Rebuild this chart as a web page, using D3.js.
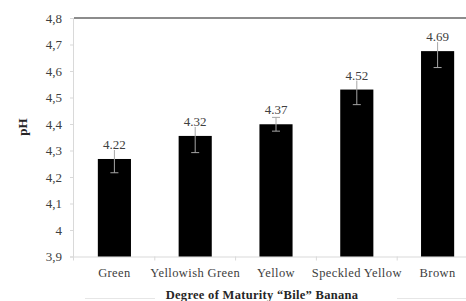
<!DOCTYPE html>
<html>
<head>
<meta charset="utf-8">
<script src="https://cdn.jsdelivr.net/npm/d3@7"></script>
<style>
  body { margin: 0; background: #fff; }
  svg { display: block; }
  svg text { font-family: "Liberation Serif", "Times New Roman", "DejaVu Serif", serif; }
</style>
</head>
<body>
<script>
var wW = 466;
var wH = 301;

// data
var categories = ["Green", "Yellowish Green", "Yellow", "Speckled Yellow", "Brown"];
var barValues = [4.268, 4.355, 4.399, 4.53, 4.675];
var errValues = [0.052, 0.063, 0.026, 0.057, 0.062];
var valueLabels = ["4.22", "4.32", "4.37", "4.52", "4.69"];
var yTicks = [3.9, 4, 4.1, 4.2, 4.3, 4.4, 4.5, 4.6, 4.7, 4.8];

var svg = d3.select("body").append("svg")
  .attr("width", wW)
  .attr("height", wH);

var x = d3.scaleBand()
  .domain(categories)
  .range([74, 478])
  .paddingInner(0.59)
  .paddingOuter(0.295);

var y = d3.scaleLinear()
  .domain([3.9, 4.8])
  .range([256.5, 18]);

// top border line
svg.append("line")
  .attr("x1", 74).attr("x2", wW)
  .attr("y1", y(4.8)).attr("y2", y(4.8))
  .attr("stroke", "#8c8c8c")
  .attr("stroke-width", 2);

// y axis
var yAxis = svg.append("g")
  .attr("transform", "translate(74,0)")
  .call(d3.axisLeft(y).tickValues(yTicks).tickSize(4).tickPadding(8)
    .tickFormat(function(d) { return d === 4 ? "4" : d3.format(".1f")(d).replace(".", ","); }));
yAxis.attr("font-family", null);
yAxis.select(".domain").attr("stroke", "#d9d9d9").attr("d", "M-0.5," + y(4.8) + "V" + (y(3.9) + 4));
yAxis.selectAll(".tick line").attr("stroke", "#d9d9d9");
yAxis.selectAll(".tick text")
  .attr("font-size", 13)
  .attr("fill", "#404040");

// x axis
var xAxis = svg.append("g")
  .attr("transform", "translate(0," + y(3.9) + ")")
  .call(d3.axisBottom(x).tickSize(0).tickPadding(12));
xAxis.attr("font-family", null);
xAxis.select(".domain").attr("stroke", "#d9d9d9").attr("d", "M70,0.5H" + wW);
xAxis.selectAll(".tick text")
  .attr("font-size", 12.5)
  .attr("fill", "#404040")
  .attr("letter-spacing", 0.4);

// small separators between categories
var step = x.step();
xAxis.selectAll(".sep")
  .data(categories)
  .enter().append("line")
  .attr("class", "sep")
  .attr("x1", function(d) { return x(d) + x.bandwidth() / 2 + step / 2; })
  .attr("x2", function(d) { return x(d) + x.bandwidth() / 2 + step / 2; })
  .attr("y1", 0).attr("y2", 4)
  .attr("stroke", "#d9d9d9");

// bars
svg.selectAll(".bar")
  .data(categories)
  .enter().append("rect")
  .attr("class", "bar")
  .attr("x", function(d) { return x(d); })
  .attr("width", x.bandwidth())
  .attr("y", function(d, i) { return y(barValues[i]); })
  .attr("height", function(d, i) { return y(3.9) - y(barValues[i]); })
  .attr("fill", "#000");

// error bars
var eb = svg.selectAll(".err")
  .data(categories)
  .enter().append("g")
  .attr("class", "err")
  .attr("stroke", "#a6a6a6")
  .attr("stroke-width", 1);
eb.append("line")
  .attr("x1", function(d) { return x(d) + x.bandwidth() / 2; })
  .attr("x2", function(d) { return x(d) + x.bandwidth() / 2; })
  .attr("y1", function(d, i) { return y(barValues[i] + errValues[i]); })
  .attr("y2", function(d, i) { return y(barValues[i] - errValues[i]); });
eb.append("line")
  .attr("x1", function(d) { return x(d) + x.bandwidth() / 2 - 4; })
  .attr("x2", function(d) { return x(d) + x.bandwidth() / 2 + 4; })
  .attr("y1", function(d, i) { return y(barValues[i] - errValues[i]); })
  .attr("y2", function(d, i) { return y(barValues[i] - errValues[i]); });
eb.append("line")
  .attr("x1", function(d) { return x(d) + x.bandwidth() / 2 - 4; })
  .attr("x2", function(d) { return x(d) + x.bandwidth() / 2 + 4; })
  .attr("y1", function(d, i) { return y(barValues[i] + errValues[i]); })
  .attr("y2", function(d, i) { return y(barValues[i] + errValues[i]); });

// value labels, on a white box like the original data labels
var vl = svg.selectAll(".vlabel")
  .data(categories)
  .enter().append("g")
  .attr("class", "vlabel");
vl.append("rect")
  .attr("x", function(d) { return x(d) + x.bandwidth() / 2 - 12; })
  .attr("y", function(d, i) { return y(barValues[i]) - 21; })
  .attr("width", 24)
  .attr("height", 12)
  .attr("fill", "#fff");
vl.append("text")
  .attr("x", function(d) { return x(d) + x.bandwidth() / 2; })
  .attr("y", function(d, i) { return y(barValues[i]) - 10; })
  .attr("text-anchor", "middle")
  .attr("font-size", 13)
  .attr("fill", "#404040")
  .text(function(d, i) { return valueLabels[i]; });

// axis titles
svg.append("text")
  .attr("transform", "translate(27,127) rotate(-90)")
  .attr("text-anchor", "middle")
  .attr("font-size", 13)
  .attr("font-weight", "bold")
  .attr("fill", "#262626")
  .text("pH");

svg.append("text")
  .attr("x", 262)
  .attr("y", 299)
  .attr("text-anchor", "middle")
  .attr("font-size", 12.5)
  .attr("font-weight", "bold")
  .attr("fill", "#262626")
  .attr("letter-spacing", 0.3)
  .text("Degree of Maturity \u201cBile\u201d Banana");

// faint rule fragments at the bottom edge
svg.append("line").attr("x1", 85).attr("x2", 155).attr("y1", 298.5).attr("y2", 298.5).attr("stroke", "#e6e6e6");
svg.append("line").attr("x1", 397).attr("x2", wW).attr("y1", 298.5).attr("y2", 298.5).attr("stroke", "#e6e6e6");
</script>
</body>
</html>
